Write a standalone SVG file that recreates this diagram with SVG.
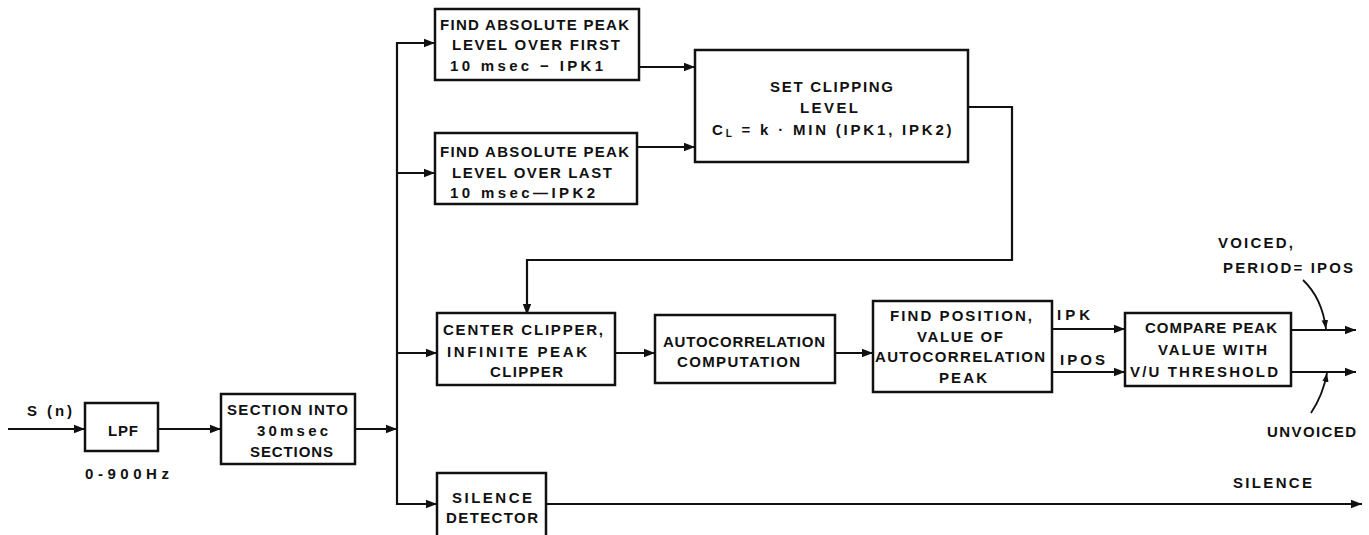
<svg xmlns="http://www.w3.org/2000/svg" width="1369" height="535" viewBox="0 0 1369 535">
<style>
.box{fill:#fff;stroke:#111;stroke-width:2.5}
.ln{fill:none;stroke:#111;stroke-width:2.2}
.pt{fill:none;stroke:#111;stroke-width:1.8}
.t{font-family:"Liberation Sans",Arial,sans-serif;font-size:15px;font-weight:bold;fill:#111}
</style>
<defs>
<marker id="ah" markerUnits="userSpaceOnUse" markerWidth="12" markerHeight="10" refX="11" refY="5" orient="auto">
<path d="M0,0.8 L11,5 L0,9.2 Z" fill="#111"/>
</marker>
<marker id="sm" markerUnits="userSpaceOnUse" markerWidth="10" markerHeight="8" refX="9" refY="4" orient="auto">
<path d="M0,0.8 L9,4 L0,7.2 Z" fill="#111"/>
</marker>
</defs>
<rect width="1369" height="535" fill="#fff"/>
<g id="connectors">
<line class="ln" x1="8" y1="429" x2="85" y2="429" marker-end="url(#ah)"/>
<line class="ln" x1="158" y1="429" x2="221" y2="429" marker-end="url(#ah)"/>
<line class="ln" x1="355" y1="429" x2="397" y2="429" marker-end="url(#ah)"/>
<polyline class="ln" points="435,43 397,43 397,504 437,504"/>
<line class="ln" x1="397" y1="43" x2="435" y2="43" marker-end="url(#ah)"/>
<line class="ln" x1="397" y1="173" x2="435" y2="173" marker-end="url(#ah)"/>
<line class="ln" x1="397" y1="353" x2="437" y2="353" marker-end="url(#ah)"/>
<line class="ln" x1="397" y1="504" x2="437" y2="504" marker-end="url(#ah)"/>
<line class="ln" x1="639" y1="67" x2="695" y2="67" marker-end="url(#ah)"/>
<line class="ln" x1="637" y1="147" x2="695" y2="147" marker-end="url(#ah)"/>
<polyline class="ln" points="968,107 1012,107 1012,260 527,260 527,315" marker-end="url(#ah)"/>
<line class="ln" x1="615" y1="353" x2="655" y2="353" marker-end="url(#ah)"/>
<line class="ln" x1="835" y1="353" x2="873" y2="353" marker-end="url(#ah)"/>
<line class="ln" x1="1052" y1="329" x2="1125" y2="329" marker-end="url(#ah)"/>
<line class="ln" x1="1052" y1="372" x2="1125" y2="372" marker-end="url(#ah)"/>
<line class="ln" x1="1291" y1="330" x2="1356" y2="330" marker-end="url(#ah)"/>
<line class="ln" x1="1291" y1="372" x2="1356" y2="372" marker-end="url(#ah)"/>
<line class="ln" x1="546" y1="504" x2="1362" y2="504" marker-end="url(#ah)"/>
<path class="pt" d="M1303,280 Q1322,298 1326,329" marker-end="url(#sm)"/>
<path class="pt" d="M1311,413 Q1323,395 1327,373" marker-end="url(#sm)"/>
</g>
<g id="labels">
<text class="t" x="27" y="416" textLength="45">S (n)</text>
<text class="t" x="85" y="479" textLength="84">0-900Hz</text>
<text class="t" x="1057" y="320" textLength="33">IPK</text>
<text class="t" x="1060" y="365" textLength="45">IPOS</text>
<text class="t" x="1218" y="248" textLength="75">VOICED,</text>
<text class="t" x="1223" y="273" textLength="130">PERIOD= IPOS</text>
<text class="t" x="1267" y="437" textLength="89">UNVOICED</text>
<text class="t" x="1233" y="488" textLength="79">SILENCE</text>
</g>
<g id="lpf">
<rect class="box" x="85" y="403" width="73" height="48"/>
<text class="t" x="108" y="436" textLength="30">LPF</text>
</g>
<g id="section">
<rect class="box" x="221" y="394" width="134" height="70"/>
<text class="t" x="227" y="415" textLength="121">SECTION INTO</text>
<text class="t" x="257" y="436" textLength="71">30msec</text>
<text class="t" x="250" y="457" textLength="83">SECTIONS</text>
</g>
<g id="ipk1">
<rect class="box" x="435" y="9" width="204" height="71"/>
<text class="t" x="440" y="30" textLength="189">FIND ABSOLUTE PEAK</text>
<text class="t" x="452" y="50" textLength="168">LEVEL OVER FIRST</text>
<text class="t" x="450" y="71" textLength="153">10 msec − IPK1</text>
</g>
<g id="ipk2">
<rect class="box" x="435" y="133" width="202" height="71"/>
<text class="t" x="440" y="157" textLength="189">FIND ABSOLUTE PEAK</text>
<text class="t" x="452" y="178" textLength="160">LEVEL OVER LAST</text>
<text class="t" x="450" y="198" textLength="145">10 msec—IPK2</text>
</g>
<g id="clip">
<rect class="box" x="695" y="50" width="273" height="112"/>
<text class="t" x="770" y="92" textLength="123">SET CLIPPING</text>
<text class="t" x="800" y="113" textLength="58">LEVEL</text>
<text class="t" x="712" y="135" letter-spacing="2.8">C<tspan font-size="10" dy="2">L</tspan><tspan dy="-2"> = k · MIN (IPK1, IPK2)</tspan></text>
</g>
<g id="center">
<rect class="box" x="437" y="313" width="178" height="72"/>
<text class="t" x="443" y="335" textLength="160">CENTER CLIPPER,</text>
<text class="t" x="447" y="357" textLength="140">INFINITE PEAK</text>
<text class="t" x="490" y="377" textLength="73">CLIPPER</text>
</g>
<g id="autocorr">
<rect class="box" x="655" y="315" width="180" height="68"/>
<text class="t" x="663" y="347" textLength="162">AUTOCORRELATION</text>
<text class="t" x="677" y="367" textLength="123">COMPUTATION</text>
</g>
<g id="findpos">
<rect class="box" x="873" y="301" width="179" height="91"/>
<text class="t" x="890" y="321" textLength="142">FIND POSITION,</text>
<text class="t" x="917" y="342" textLength="86">VALUE OF</text>
<text class="t" x="875" y="362" textLength="170">AUTOCORRELATION</text>
<text class="t" x="939" y="383" textLength="48">PEAK</text>
</g>
<g id="compare">
<rect class="box" x="1125" y="313" width="166" height="73"/>
<text class="t" x="1145" y="333" textLength="132">COMPARE PEAK</text>
<text class="t" x="1158" y="355" textLength="109">VALUE WITH</text>
<text class="t" x="1130" y="377" textLength="148">V/U THRESHOLD</text>
</g>
<g id="silence">
<rect class="box" x="437" y="473" width="109" height="75"/>
<text class="t" x="452" y="503" textLength="80">SILENCE</text>
<text class="t" x="446" y="523" textLength="92">DETECTOR</text>
</g>
</svg>
